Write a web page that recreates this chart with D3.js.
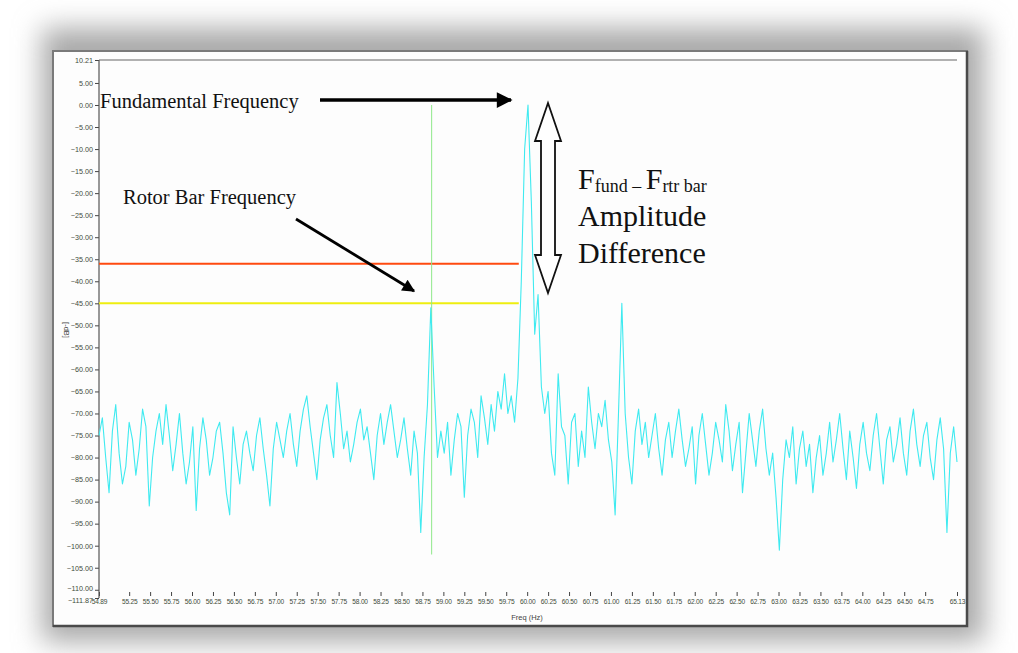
<!DOCTYPE html>
<html>
<head>
<meta charset="utf-8">
<script src="https://cdn.jsdelivr.net/npm/d3@7"></script>
<style>
  html, body { margin: 0; padding: 0; background: #fff; }
  svg { display: block; }
  .tick text { font-family: 'Liberation Sans', Arial, sans-serif; fill: #3e4c3a; }
  .tick line { stroke: #444; }
  .note { font-family: 'Liberation Serif', 'Times New Roman', serif; fill: #111; }
</style>
</head>
<body>
<svg id="chart" width="1018" height="653"></svg>
<script>
// spectrum bins, 0.04 Hz apart starting at 54.89 Hz
const startFreq = 54.89;
const binWidth = 0.04;
const amplitudes = [
  -75, -71, -80, -88, -74, -68, -79, -86, -82, -72,
  -76, -84, -78, -69, -73, -91, -80, -74, -70, -77,
  -68, -75, -83, -77, -70, -79, -86, -81, -73, -92,
  -78, -71, -76, -84, -80, -74, -72, -79, -88, -93,
  -73, -80, -86, -77, -74, -79, -83, -75, -71, -78,
  -84, -91, -78, -72, -76, -80, -74, -70, -77, -82,
  -74, -69, -66, -73, -79, -85, -76, -71, -68, -75,
  -80, -63, -70, -78, -74, -81, -77, -72, -69, -76,
  -73, -79, -85, -75, -70, -77, -72, -68, -74, -80,
  -76, -71, -78, -84, -74, -79, -97, -80, -68, -46,
  -64, -80, -74, -79, -72, -84, -76, -70, -73, -89,
  -75, -69, -72, -80, -66, -71, -77, -68, -74, -65,
  -69, -61, -70, -66, -72, -62, -40, -10, 0, -22,
  -52, -43, -64, -70, -65, -79, -84, -61, -73, -75,
  -86, -72, -70, -82, -74, -80, -64, -72, -78, -70,
  -73, -67, -76, -81, -93, -70, -45, -70, -80, -86,
  -74, -69, -77, -72, -80, -75, -70, -78, -84, -76,
  -72, -80, -74, -69, -76, -82, -78, -73, -86, -75,
  -70, -77, -84, -79, -72, -76, -81, -68, -74, -83,
  -77, -72, -88, -79, -70, -76, -82, -74, -69, -78,
  -84, -79, -89, -101, -85, -76, -80, -73, -86, -78,
  -74, -82, -77, -88, -80, -75, -84, -79, -72, -81,
  -76, -70, -78, -85, -74, -80, -87, -77, -72, -79,
  -83, -75, -70, -78, -86, -76, -73, -81, -77, -71,
  -79, -84, -74, -69, -77, -82, -75, -72, -80, -85,
  -76, -71, -78, -97, -79, -73, -81
];

const yTicks = [10.21, 5, 0, -5, -10, -15, -20, -25, -30, -35, -40, -45, -50, -55,
  -60, -65, -70, -75, -80, -85, -90, -95, -100, -105, -110, -111.87];
const xTicks = [54.89, 55.25, 55.5, 55.75, 56, 56.25, 56.5, 56.75, 57, 57.25, 57.5, 57.75,
  58, 58.25, 58.5, 58.75, 59, 59.25, 59.5, 59.75, 60, 60.25, 60.5, 60.75, 61, 61.25,
  61.5, 61.75, 62, 62.25, 62.5, 62.75, 63, 63.25, 63.5, 63.75, 64, 64.25, 64.5, 64.75, 65.13];

const fundamentalLevel = -36;   // red cursor
const rotorBarLevel = -45;      // yellow cursor
const cursorEndFreq = 59.9;
const rotorBarFreq = 58.86;     // green marker
const markerRange = [0, -102];

const svg = d3.select('#chart');

const x = d3.scaleLinear().domain([54.89, 65.13]).range([99, 957]);
const y = d3.scaleLinear().domain([10.21, -111.87]).range([60, 598]);

// window + shadow
const defs = svg.append('defs');
defs.append('filter').attr('id', 'shadow')
  .attr('x', '-10%').attr('y', '-20%').attr('width', '120%').attr('height', '140%')
  .append('feGaussianBlur').attr('stdDeviation', 14);

svg.append('rect')
  .attr('x', 42).attr('y', 28).attr('width', 942).attr('height', 614)
  .attr('fill', '#a9a9a9')
  .attr('filter', 'url(#shadow)');

svg.append('rect')
  .attr('x', 53).attr('y', 51).attr('width', 914).attr('height', 575)
  .attr('fill', '#fdfdfd')
  .attr('stroke', '#7a7a7a')
  .attr('stroke-width', 2);
svg.append('path')
  .attr('d', 'M967,51 V626 H53')
  .attr('fill', 'none')
  .attr('stroke', '#4a4a4a')
  .attr('stroke-width', 2.5);

// axes
const yAxis = svg.append('g')
  .attr('transform', 'translate(99,0)')
  .call(d3.axisLeft(y).tickValues(yTicks).tickFormat(d3.format('.2f')).tickSize(4).tickPadding(2));
yAxis.select('.domain').remove();
yAxis.selectAll('.tick text').attr('font-size', 7.2)
  .attr('dy', d => d === -110 ? '0.05em' : d === -111.87 ? '0.62em' : '0.32em');

const xAxis = svg.append('g')
  .attr('transform', 'translate(0,592)')
  .call(d3.axisBottom(x).tickValues(xTicks).tickFormat(d3.format('.2f')).tickSize(4).tickPadding(3));
xAxis.select('.domain').remove();
xAxis.selectAll('.tick line').attr('stroke', '#666');
xAxis.selectAll('.tick text').attr('font-size', 6.6).attr('letter-spacing', -0.2);

svg.append('line')
  .attr('x1', 99).attr('x2', 99).attr('y1', 60).attr('y2', 598)
  .attr('stroke', '#555').attr('stroke-width', 1.2);
svg.append('line')
  .attr('x1', 99).attr('x2', 957).attr('y1', 60).attr('y2', 60)
  .attr('stroke', '#666').attr('stroke-width', 1.2);

svg.append('text')
  .attr('transform', 'translate(64,330) rotate(90)')
  .attr('text-anchor', 'middle')
  .attr('font-family', 'Liberation Sans, Arial, sans-serif')
  .attr('font-size', 7.5).attr('fill', '#444')
  .text('[-dB]');

svg.append('text')
  .attr('x', 527).attr('y', 620)
  .attr('text-anchor', 'middle')
  .attr('font-family', 'Liberation Sans, Arial, sans-serif')
  .attr('font-size', 7.5).attr('fill', '#444')
  .text('Freq (Hz)');

// cursors
svg.append('line')
  .attr('x1', x(54.89)).attr('x2', x(cursorEndFreq))
  .attr('y1', y(fundamentalLevel)).attr('y2', y(fundamentalLevel))
  .attr('stroke', '#ff4a10').attr('stroke-width', 2);
svg.append('line')
  .attr('x1', x(54.89)).attr('x2', x(cursorEndFreq))
  .attr('y1', y(rotorBarLevel)).attr('y2', y(rotorBarLevel))
  .attr('stroke', '#eeee10').attr('stroke-width', 2);
svg.append('line')
  .attr('x1', x(rotorBarFreq)).attr('x2', x(rotorBarFreq))
  .attr('y1', y(markerRange[0])).attr('y2', y(markerRange[1]))
  .attr('stroke', '#8ee88a').attr('stroke-width', 1);

// spectrum trace
const line = d3.line()
  .x((d, i) => x(startFreq + i * binWidth))
  .y(d => y(d));

svg.append('path')
  .datum(amplitudes)
  .attr('d', line)
  .attr('fill', 'none')
  .attr('stroke', '#3feaf0')
  .attr('stroke-width', 1.1)
  .attr('stroke-linejoin', 'round');

// annotations
defs.append('marker').attr('id', 'head')
  .attr('viewBox', '0 0 10 10').attr('refX', 9).attr('refY', 5)
  .attr('markerWidth', 5).attr('markerHeight', 4.5)
  .attr('markerUnits', 'strokeWidth').attr('orient', 'auto')
  .append('path').attr('d', 'M0,0 L10,5 L0,10 Z').attr('fill', '#000');

svg.append('text').attr('class', 'note')
  .attr('x', 100).attr('y', 108).attr('font-size', 20.5)
  .text('Fundamental Frequency');
svg.append('line')
  .attr('x1', 320).attr('y1', 100).attr('x2', 511).attr('y2', 100)
  .attr('stroke', '#000').attr('stroke-width', 3.5)
  .attr('marker-end', 'url(#head)');

svg.append('text').attr('class', 'note')
  .attr('x', 123).attr('y', 204).attr('font-size', 20.5)
  .text('Rotor Bar Frequency');
svg.append('line')
  .attr('x1', 296).attr('y1', 219).attr('x2', 414).attr('y2', 291)
  .attr('stroke', '#000').attr('stroke-width', 2.8)
  .attr('marker-end', 'url(#head)');

svg.append('path')
  .attr('d', 'M548,103 L561,141 L555,141 L555,255 L561,255 L548,293 L535,255 L541,255 L541,141 L535,141 Z')
  .attr('fill', '#fff').attr('stroke', '#111').attr('stroke-width', 1.8)
  .attr('stroke-linejoin', 'miter');

const sub = svg.append('text').attr('class', 'note').attr('x', 578).attr('y', 189).attr('font-size', 30);
sub.append('tspan').text('F');
sub.append('tspan').attr('font-size', 18).attr('dy', 3).text('fund');
sub.append('tspan').attr('font-size', 18).text(' \u2013 ');
sub.append('tspan').attr('font-size', 30).attr('dy', -3).text('F');
sub.append('tspan').attr('font-size', 18).attr('dy', 3).text('rtr bar');

svg.append('text').attr('class', 'note')
  .attr('x', 578).attr('y', 226).attr('font-size', 30)
  .text('Amplitude');
svg.append('text').attr('class', 'note')
  .attr('x', 578).attr('y', 263).attr('font-size', 30)
  .text('Difference');
</script>
</body>
</html>
